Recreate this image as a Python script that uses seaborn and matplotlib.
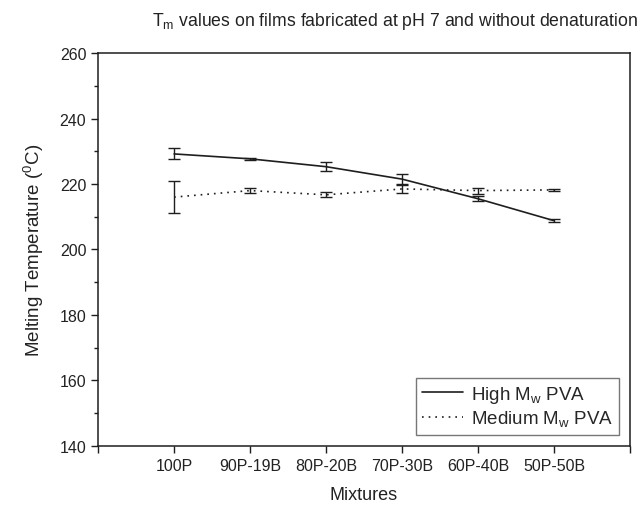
import matplotlib
matplotlib.use("Agg")
import matplotlib.pyplot as plt
from matplotlib.ticker import MultipleLocator, FixedLocator
import seaborn as sns
import pandas as pd

# Film mixtures (PVA / B ratio) on the x axis
mixtures = ["100P", "90P-19B", "80P-20B", "70P-30B", "60P-40B", "50P-50B"]

# Melting temperature (°C) and standard deviation for each PVA grade
high_tm = [229.2, 227.7, 225.3, 221.5, 215.5, 208.8]
high_err = [1.7, 0.3, 1.3, 1.5, 0.7, 0.4]
medium_tm = [216.0, 218.0, 216.7, 218.5, 218.0, 218.2]
medium_err = [4.9, 0.8, 0.8, 1.2, 0.9, 0.2]

series_names = ["High M$_\\mathrm{w}$ PVA", "Medium M$_\\mathrm{w}$ PVA"]

sns.set_theme(style="ticks")
plt.rcParams["font.family"] = ["Liberation Sans", "DejaVu Sans"]
plt.rcParams["mathtext.fontset"] = "custom"
plt.rcParams["mathtext.rm"] = "Liberation Sans"

positions = list(range(1, len(mixtures) + 1))
df = pd.DataFrame({
    "pos": positions * 2,
    "tm": high_tm + medium_tm,
    "err": high_err + medium_err,
    "series": [series_names[0]] * len(mixtures) + [series_names[1]] * len(mixtures),
})

fig = plt.figure(figsize=(6.37, 5.06), dpi=100)
ax = fig.add_axes([0.154, 0.117, 0.835, 0.776])

ink = "#1e1e1e"
sns.lineplot(
    data=df, x="pos", y="tm", style="series",
    dashes={series_names[0]: "", series_names[1]: (1, 3)},
    color=ink, linewidth=1.2, ax=ax, legend=False,
)
for name in series_names:
    sub = df[df["series"] == name]
    ax.errorbar(sub["pos"], sub["tm"], yerr=sub["err"], fmt="none",
                ecolor=ink, elinewidth=1.0, capsize=4, capthick=1.0)

ax.set_xlim(0, 7)
ax.set_ylim(140, 260)
ax.xaxis.set_major_locator(FixedLocator(range(0, 8)))
ax.set_xticklabels([""] + mixtures + [""])
ax.yaxis.set_major_locator(MultipleLocator(20))
ax.yaxis.set_minor_locator(MultipleLocator(10))
ax.tick_params(axis="both", which="major", direction="out", length=5,
               width=1.0, color=ink, labelsize=11.5, labelcolor="#222")
ax.tick_params(axis="y", which="minor", direction="out", length=3,
               width=1.0, color=ink)
for sp in ax.spines.values():
    sp.set_visible(True)
    sp.set_color(ink)
    sp.set_linewidth(1.1)

ax.set_xlabel("Mixtures", fontsize=13, color="#222", labelpad=10)
ax.set_ylabel("Melting Temperature ($^\\mathrm{0}$C)", fontsize=13.5,
              color="#222", labelpad=10)

handles = [
    plt.Line2D([], [], color=ink, linewidth=1.2, linestyle="-"),
    plt.Line2D([], [], color=ink, linewidth=1.2, linestyle=(0, (1, 3))),
]
leg = ax.legend(handles, series_names, loc="lower right", fontsize=13.5,
                frameon=True, fancybox=False, handlelength=2.2,
                handletextpad=0.4, borderaxespad=0.6, labelspacing=0.2,
                borderpad=0.3)
leg.get_frame().set_edgecolor("#555")
leg.get_frame().set_linewidth(1.0)

fig.text(0.62, 0.958, "T$_\\mathrm{m}$ values on films fabricated at pH 7 and without denaturation",
         ha="center", va="center", fontsize=12.7, color="#222")

fig.savefig("out.png", dpi=100, facecolor="white")
